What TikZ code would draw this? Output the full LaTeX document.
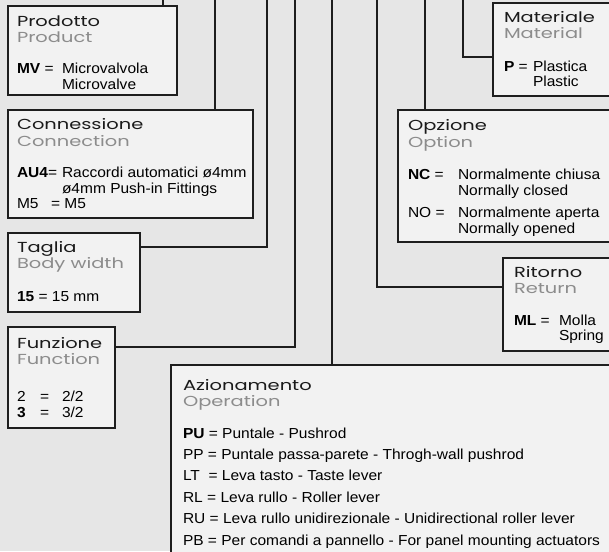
\documentclass[tikz,border=0pt]{standalone}
\usepackage{fontspec}
\setmainfont{Liberation Sans}[FakeStretch=1.07]
\newfontfamily\titlefont{Poppins}[FakeStretch=1.34]
\definecolor{bg}{HTML}{E6E6E6}
\definecolor{boxfill}{HTML}{F2F2F2}
\definecolor{linec}{HTML}{1E1E1E}
\definecolor{subc}{HTML}{8C8C8C}
\definecolor{ttlc}{HTML}{1A1A1A}
\tikzset{
  panel/.style={draw=linec, line width=1.1pt, fill=boxfill, rectangle, anchor=north west, inner sep=0pt, outer sep=0pt},
  conn/.style={draw=linec, line width=1.1pt},
  txt/.style={anchor=base west, inner sep=0pt, outer sep=0pt, text=black, font=\fontsize{14.5}{16}\selectfont},
  ttl/.style={anchor=base west, inner sep=0pt, outer sep=0pt, text=ttlc, font=\titlefont\fontsize{14.5}{16}\selectfont},
  sub/.style={ttl, text=subc}
}
\begin{document}
\begin{tikzpicture}[x=1pt,y=-1pt]
\useasboundingbox (0,0) rectangle (609,551);
\clip (0,0) rectangle (609,551);
\fill[bg] (0,0) rectangle (609,551);

% top coordinates of connectors
\coordinate (t1) at (163,0);
\coordinate (t2) at (215,0);
\coordinate (t3) at (267,0);
\coordinate (t4) at (295,0);
\coordinate (t5) at (332,0);
\coordinate (t6) at (377,0);
\coordinate (t7) at (425,0);
\coordinate (t8) at (463,0);
\coordinate (e3) at (267,247);
\coordinate (e4) at (295,347);
\coordinate (e6) at (377,287);
\coordinate (e8) at (463,57);

% panels
\node[panel, minimum width=169pt, minimum height=89pt] (prod) at (8,6) {};
\node[panel, minimum width=245pt, minimum height=108pt] (conn) at (8,110) {};
\node[panel, minimum width=132pt, minimum height=79pt] (tag) at (8,233) {};
\node[panel, minimum width=107pt, minimum height=101pt] (fun) at (8,327) {};
\node[panel, minimum width=449pt, minimum height=205pt] (az) at (171,365) {};
\node[panel, minimum width=127pt, minimum height=93pt] (mat) at (493,3) {};
\node[panel, minimum width=222pt, minimum height=132pt] (opz) at (398,110) {};
\node[panel, minimum width=117pt, minimum height=93pt] (ret) at (503,258) {};

% connectors
\draw[conn] (t1) -- (t1 |- prod.north);
\draw[conn] (t2) -- (t2 |- conn.north);
\draw[conn] (t3) -- (e3) -- (e3 -| tag.east);
\draw[conn] (t4) -- (e4) -- (e4 -| fun.east);
\draw[conn] (t5) -- (t5 |- az.north);
\draw[conn] (t6) -- (e6) -- (e6 -| ret.west);
\draw[conn] (t7) -- (t7 |- opz.north);
\draw[conn] (t8) -- (e8) -- (e8 -| mat.west);

% Prodotto
\node[ttl] (prodT) at (17,27) {Prodotto};
\node[sub] (prodS) at (17,43) {Product};
\node[txt] (prodA) at (17,73) {\textbf{MV} =};
\node[txt] (prodB) at (62,73) {Microvalvola};
\node[txt] (prodC) at (62,89) {Microvalve};

% Connessione
\node[ttl] (connT) at (17,129) {Connessione};
\node[sub] (connS) at (17,146) {Connection};
\node[txt] (connA) at (17,177) {\textbf{AU4}=};
\node[txt] (connB) at (62,177) {Raccordi automatici ø4mm};
\node[txt] (connC) at (62,193) {ø4mm Push-in Fittings};
\node[txt] (connD) at (17,208) {M5};
\node[txt] (connE) at (51,208) {= M5};

% Taglia
\node[ttl] (tagT) at (17,252) {Taglia};
\node[sub] (tagS) at (17,268) {Body width};
\node[txt] (tagA) at (17,301) {\textbf{15} = 15 mm};

% Funzione
\node[ttl] (funT) at (17,348) {Funzione};
\node[sub] (funS) at (17,364) {Function};
\node[txt] (funA) at (17,401) {2};
\node[txt] (funB) at (40,401) {=};
\node[txt] (funC) at (62,401) {2/2};
\node[txt] (funD) at (17,417) {\textbf{3}};
\node[txt] (funE) at (40,417) {=};
\node[txt] (funF) at (62,417) {3/2};

% Azionamento
\node[ttl] (azT) at (183,390) {Azionamento};
\node[sub] (azS) at (183,406) {Operation};
\node[txt] (az1) at (183,438) {\textbf{PU} = Puntale - Pushrod};
\node[txt] (az2) at (183,459.4) {PP = Puntale passa-parete - Throgh-wall pushrod};
\node[txt] (az3) at (183,480.8) {LT \ = Leva tasto - Taste lever};
\node[txt] (az4) at (183,502.2) {RL = Leva rullo - Roller lever};
\node[txt] (az5) at (183,523.6) {RU = Leva rullo unidirezionale - Unidirectional roller lever};
\node[txt] (az6) at (183,545) {PB = Per comandi a pannello - For panel mounting actuators};

% Materiale
\node[ttl] (matT) at (504,23) {Materiale};
\node[sub] (matS) at (504,38) {Material};
\node[txt] (matA) at (504,71) {\textbf{P} =};
\node[txt] (matB) at (533,71) {Plastica};
\node[txt] (matC) at (533,86) {Plastic};

% Opzione
\node[ttl] (opzT) at (408,130) {Opzione};
\node[sub] (opzS) at (408,147) {Option};
\node[txt] (opzA) at (408,179) {\textbf{NC} =};
\node[txt] (opzB) at (458,179) {Normalmente chiusa};
\node[txt] (opzC) at (458,195) {Normally closed};
\node[txt] (opzD) at (408,217) {NO =};
\node[txt] (opzE) at (458,217) {Normalmente aperta};
\node[txt] (opzF) at (458,233) {Normally opened};

% Ritorno
\node[ttl] (retT) at (514,277) {Ritorno};
\node[sub] (retS) at (514,293) {Return};
\node[txt] (retA) at (514,325) {\textbf{ML} =};
\node[txt] (retB) at (559,325) {Molla};
\node[txt] (retC) at (559,340) {Spring};
\end{tikzpicture}
\end{document}
